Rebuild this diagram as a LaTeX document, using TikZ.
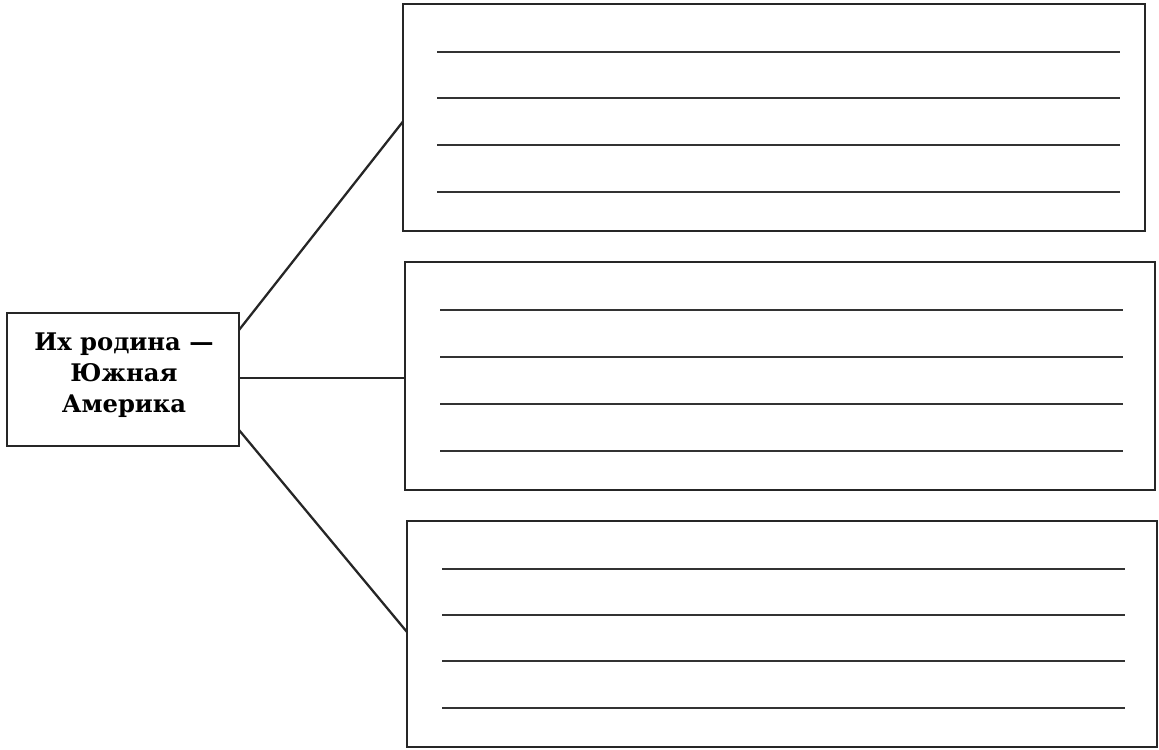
\documentclass[tikz,border=0pt]{standalone}
\usepackage{fontspec}
\setmainfont{DejaVu Serif}
\usetikzlibrary{fit,calc}
\begin{document}
\begin{tikzpicture}[x=0.02cm,y=-0.02cm,
  box/.style={draw=black!85, line width=1.5pt, inner sep=0pt, outer sep=0pt, rectangle},
  wline/.style={draw=black!80, line width=0.9pt},
  conn/.style={draw=black!85, line width=1.3pt}]
\useasboundingbox (0,0) rectangle (1159,750);
\node[box, fit={(7,313) (239,446)}] (left) {};
\node[align=center, font=\bfseries\fontsize{13.8}{17.5}\selectfont] (lt) at (124,375) {Их родина —\\Южная\\Америка};
\node[box, fit={(403,4) (1145,231)}] (b1) {};
\node[box, fit={(405,262) (1155,490)}] (b2) {};
\node[box, fit={(407,521) (1157,747)}] (b3) {};
\foreach \y in {52,98,145,192} \draw[wline] (437,\y) -- (1120,\y);
\foreach \y in {310,357,404,451} \draw[wline] (440,\y) -- (1123,\y);
\foreach \y in {569,615,661,708} \draw[wline] (442,\y) -- (1125,\y);
\draw[conn] ($(left.north east)+(0,17)$) -- ($(b1.west)+(0,4)$);
\draw[conn] ($(left.east)+(0,-1.5)$) -- ($(left.east -| b2.west)+(0,-1.5)$);
\draw[conn] ($(left.south east)+(0,-16)$) -- ($(b3.west)+(0,-2)$);
\end{tikzpicture}
\end{document}
